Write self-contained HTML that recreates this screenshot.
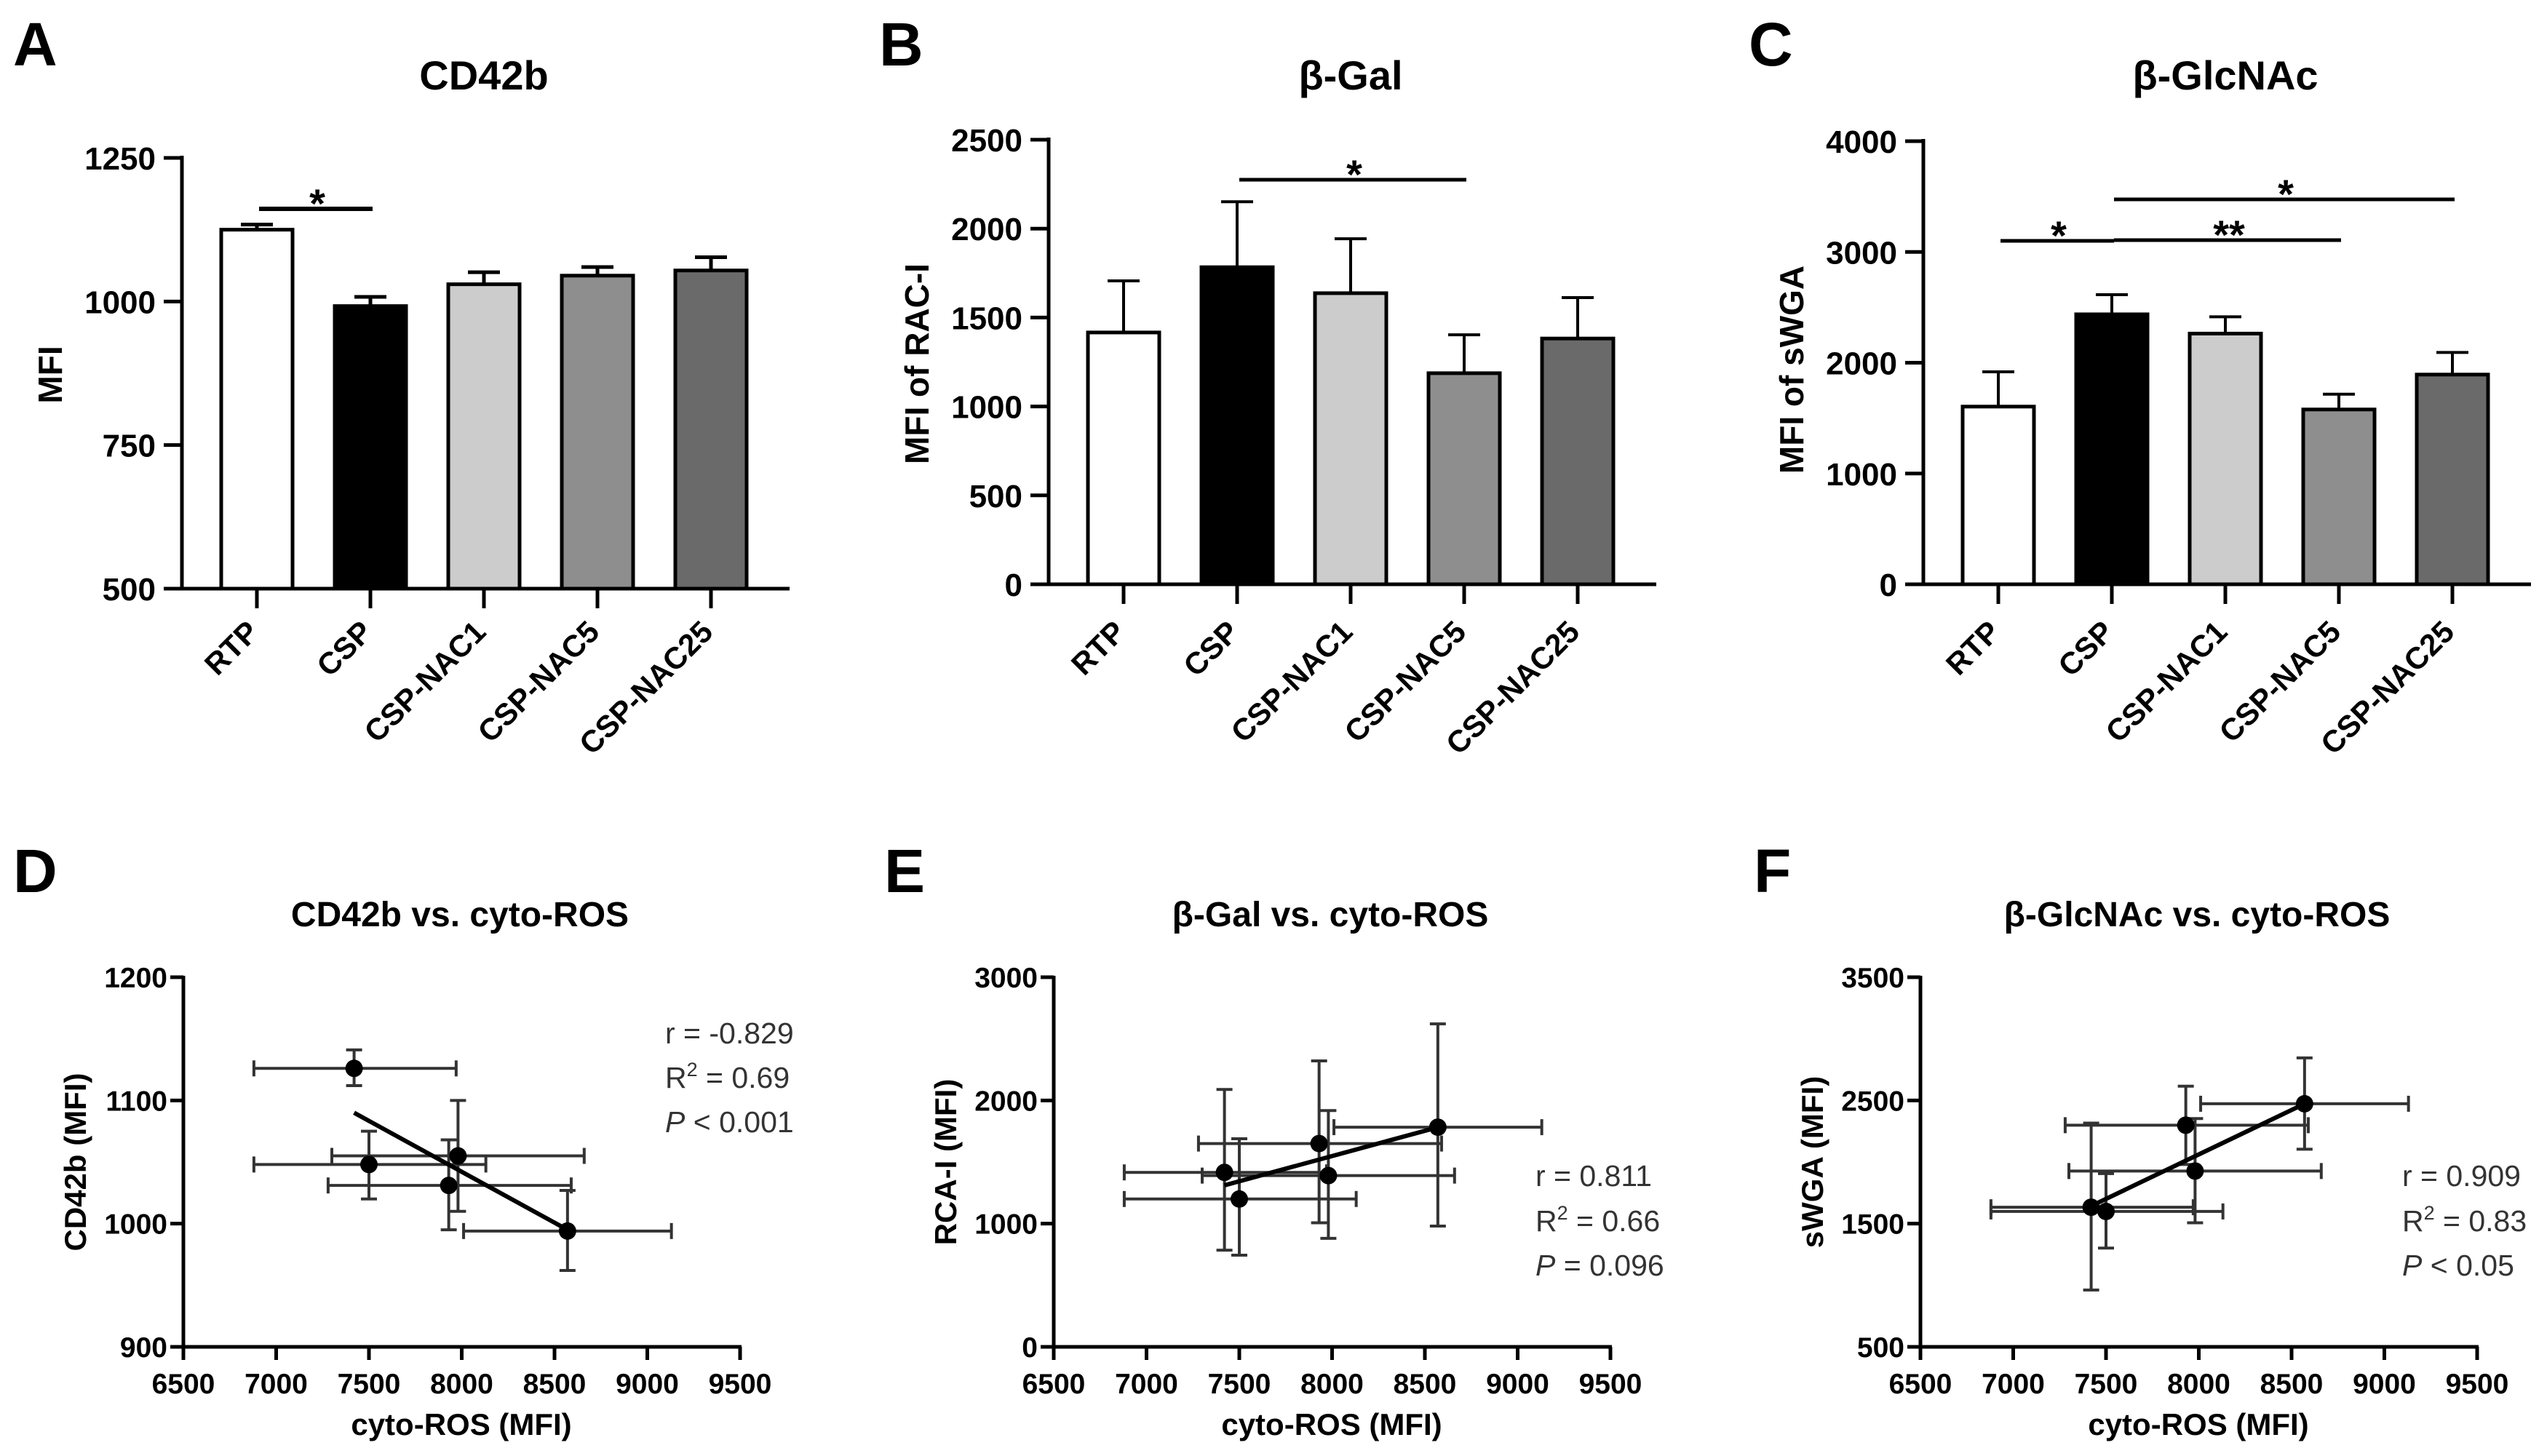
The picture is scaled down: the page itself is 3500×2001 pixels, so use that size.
<!DOCTYPE html>
<html><head><meta charset="utf-8">
<style>
html,body{margin:0;padding:0;background:#fff;}
svg{display:block;font-family:"Liberation Sans",Arial,sans-serif;}
</style></head>
<body>
<svg id="fig" width="3500" height="2001" viewBox="0 0 3500 2001" xmlns="http://www.w3.org/2000/svg">
<rect x="0" y="0" width="3500" height="2001" fill="#fff"/>
</svg>
<script>
// ---------- data ----------
const categories = ["RTP","CSP","CSP-NAC1","CSP-NAC5","CSP-NAC25"];
const barFills = ["#ffffff","#000000","#cccccc","#8e8e8e","#6a6a6a"];
const cd42bMean = [1125, 992, 1030, 1045, 1054];
const cd42bErr  = [1134, 1008, 1051, 1060, 1077];
const galMean = [1416, 1783, 1637, 1187, 1382];
const galErr  = [1706, 2151, 1943, 1403, 1612];
const glcMean = [1604, 2437, 2263, 1578, 1893];
const glcErr  = [1918, 2614, 2415, 1716, 2093];
const ticksA = [500, 750, 1000, 1250];
const ticksB = [0, 500, 1000, 1500, 2000, 2500];
const ticksC = [0, 1000, 2000, 3000, 4000];

const rosMean = [7420, 8570, 7930, 7500, 7980];
const rosLo   = [6880, 8010, 7280, 6880, 7300];
const rosHi   = [7970, 9130, 8590, 8130, 8660];
const xTicks  = [6500, 7000, 7500, 8000, 8500, 9000, 9500];
const dY  = [1126, 994, 1031, 1048, 1055];
const dLo = [1112, 962, 995, 1020, 1010];
const dHi = [1141, 1027, 1068, 1075, 1100];
const dFitX = [7420, 8570];
const dFitY = [1090, 995];
const dTicks = [900, 1000, 1100, 1200];
const eY  = [1416, 1783, 1650, 1200, 1390];
const eLo = [785, 980, 1007, 744, 881];
const eHi = [2089, 2621, 2321, 1689, 1918];
const eFitX = [7420, 8570];
const eFitY = [1311, 1782];
const eTicks = [0, 1000, 2000, 3000];
const fY  = [1633, 2473, 2299, 1599, 1927];
const fLo = [961, 2104, 1980, 1302, 1507];
const fHi = [2316, 2845, 2616, 1906, 2353];
const fFitX = [7420, 8570];
const fFitY = [1643, 2473];
const fTicks = [500, 1500, 2500, 3500];

// ---------- helpers ----------
const NS = "http://www.w3.org/2000/svg";
const svg = document.getElementById("fig");
function mk(tag, attrs, parent, text) {
  const e = document.createElementNS(NS, tag);
  for (const k in attrs) e.setAttribute(k, attrs[k]);
  if (text !== undefined) e.textContent = text;
  (parent || svg).appendChild(e);
  return e;
}
function line(x1,y1,x2,y2,w,c,p){return mk("line",{x1:x1,y1:y1,x2:x2,y2:y2,stroke:c||"#000","stroke-width":w||5},p);}

function panelLetter(t,x,y){
  const e = mk("text",{x:x,y:y,"font-size":84,"font-weight":"bold"},svg,t);
  
  
}

function barChart(o){
  const g = mk("g",{});
  
  
  const ax=o.ax, yT=o.yTop, yB=o.yBot, mn=o.min, mx=o.max;
  const Y = v => yB - (v-mn)/(mx-mn)*(yB-yT);
  const X = i => ax + 103 + i*156;
  const t = mk("text",{x:ax+415,y:123,"font-size":56,"font-weight":"bold","text-anchor":"middle"},g,o.title);
  
  
  categories.forEach((c,i)=>{
    const cx=X(i);
    const eb = line(cx,Y(o.mean[i]),cx,Y(o.err[i]),o.ew,"#000",g);
    
    
    line(cx-22,Y(o.err[i]),cx+22,Y(o.err[i]),o.ew,"#000",g);
    const r = mk("rect",{x:cx-49,y:Y(o.mean[i]),width:98,height:yB-Y(o.mean[i]),fill:barFills[i],stroke:"#000","stroke-width":5},g);
    
    
    line(cx,yB,cx,yB+27,5,"#000",g);
    const lb = mk("text",{transform:`translate(${cx+5},871) rotate(-45)`,"font-size":42,"font-weight":"bold","text-anchor":"end"},g,c);
    
    
  });
  const ya = line(ax,yT-3,ax,yB+2,5,"#000",g);
  
  
  const xa = line(ax-2,yB,ax+835,yB,5,"#000",g);
  
  
  o.ticks.forEach(v=>{
    line(ax-25,Y(v),ax,Y(v),5,"#000",g);
    const tl = mk("text",{x:ax-36,y:Y(v)+16,"font-size":44,"font-weight":"bold","text-anchor":"end"},g,String(v));
    
    
  });
  const yl = mk("text",{transform:`translate(${ax-165},${o.ylY}) rotate(-90)`,"font-size":46,"font-weight":"bold","text-anchor":"middle"},g,o.ylabel);
  
  
  o.sig.forEach(s=>{
    const sl = line(X(s[0])+3,s[2],X(s[1])+3,s[2],s[4],"#000",g);
    
    
    const st = mk("text",{x:(X(s[0])+X(s[1]))/2+5,y:s[2]+12,"font-size":56,"font-weight":"bold","text-anchor":"middle"},g,s[3]);
    
    
  });
}

function scatter(o){
  const g = mk("g",{});
  
  
  const ax=o.ax, yT=1343, yB=1851;
  const X = v => ax + (v-6500)/3000*765;
  const Y = v => yB - (v-o.min)/(o.max-o.min)*(yB-yT);
  const t = mk("text",{x:ax+380,y:1273,"font-size":48,"font-weight":"bold","text-anchor":"middle"},g,o.title);
  
  
  const ya = line(ax,yT-2,ax,yB+2,5,"#000",g);
  
  
  const xa = line(ax-2,yB,X(9500)+2,yB,5,"#000",g);
  
  
  o.ticks.forEach(v=>{
    line(ax-18,Y(v),ax,Y(v),5,"#000",g);
    const tl = mk("text",{x:ax-22,y:Y(v)+14,"font-size":39,"font-weight":"bold","text-anchor":"end"},g,String(v));
    
    
  });
  xTicks.forEach(v=>{
    line(X(v),yB,X(v),yB+18,5,"#000",g);
    const tl = mk("text",{x:X(v),y:1915,"font-size":39,"font-weight":"bold","text-anchor":"middle"},g,String(v));
    
    
  });
  const xl = mk("text",{x:ax+382,y:1972,"font-size":42,"font-weight":"bold","text-anchor":"middle"},g,"cyto-ROS (MFI)");
  
  
  const yl = mk("text",{transform:`translate(${ax-134},1597) rotate(-90)`,"font-size":42,"font-weight":"bold","text-anchor":"middle"},g,o.ylabel);
  
  
  categories.forEach((c,i)=>{
    const px=X(rosMean[i]), py=Y(o.y[i]);
    const hx = line(X(rosLo[i]),py,X(rosHi[i]),py,4,"#333",g);
    
    
    line(X(rosLo[i]),py-11,X(rosLo[i]),py+11,4,"#333",g);
    line(X(rosHi[i]),py-11,X(rosHi[i]),py+11,4,"#333",g);
    const vy = line(px,Y(o.lo[i]),px,Y(o.hi[i]),4,"#333",g);
    
    
    line(px-11,Y(o.lo[i]),px+11,Y(o.lo[i]),4,"#333",g);
    line(px-11,Y(o.hi[i]),px+11,Y(o.hi[i]),4,"#333",g);
  });
  const fit = line(X(o.fitX[0]),Y(o.fitY[0]),X(o.fitX[1]),Y(o.fitY[1]),6,"#000",g);
  
  
  categories.forEach((c,i)=>{
    const d = mk("circle",{cx:X(rosMean[i]),cy:Y(o.y[i]),r:12,fill:"#000"},g);
    
    
  });
  const sx = ax+662;
  const s1 = mk("text",{x:sx,y:o.sy[0],"font-size":41,fill:"#333"},g,o.stats[0]);
  
  
  const s2 = mk("text",{x:sx,y:o.sy[1],"font-size":41,fill:"#333"},g);
  
  
  mk("tspan",{},s2,"R");
  mk("tspan",{dy:-16,"font-size":27},s2,"2");
  mk("tspan",{dy:16},s2," = "+o.stats[1]);
  const s3 = mk("text",{x:sx,y:o.sy[2],"font-size":41,fill:"#333"},g);
  
  
  mk("tspan",{"font-style":"italic"},s3,"P");
  mk("tspan",{},s3," "+o.stats[2]);
}

// ---------- panels ----------
panelLetter("A",18,90);
panelLetter("B",1208,90);
panelLetter("C",2403,90);
panelLetter("D",18,1226);
panelLetter("E",1215,1226);
panelLetter("F",2410,1226);

barChart({name:"chart-a-cd42b",ax:250,yTop:217,yBot:809,min:500,max:1250,ticks:ticksA,mean:cd42bMean,err:cd42bErr,ew:5,
  title:"CD42b",ylabel:"MFI",ylY:515,sig:[[0,1,287,"*",6]]});
barChart({name:"chart-b-beta-gal",ax:1441,yTop:192,yBot:803,min:0,max:2500,ticks:ticksB,mean:galMean,err:galErr,ew:4,
  title:"β-Gal",ylabel:"MFI of RAC-I",ylY:500,sig:[[1,3,247,"*",5]]});
barChart({name:"chart-c-beta-glcnac",ax:2643,yTop:194,yBot:803,min:0,max:4000,ticks:ticksC,mean:glcMean,err:glcErr,ew:4,
  title:"β-GlcNAc",ylabel:"MFI of sWGA",ylY:508,sig:[[0,1,331,"*",5],[1,3,330,"**",5],[1,4,274,"*",5]]});

scatter({name:"chart-d-cd42b-vs-ros",ax:252,min:900,max:1200,ticks:dTicks,y:dY,lo:dLo,hi:dHi,fitX:dFitX,fitY:dFitY,
  title:"CD42b vs. cyto-ROS",ylabel:"CD42b (MFI)",stats:["r = -0.829","0.69","< 0.001"],sy:[1434,1495,1556]});
scatter({name:"chart-e-gal-vs-ros",ax:1448,min:0,max:3000,ticks:eTicks,y:eY,lo:eLo,hi:eHi,fitX:eFitX,fitY:eFitY,
  title:"β-Gal vs. cyto-ROS",ylabel:"RCA-I (MFI)",stats:["r = 0.811","0.66","= 0.096"],sy:[1630,1692,1753]});
scatter({name:"chart-f-glcnac-vs-ros",ax:2639,min:500,max:3500,ticks:fTicks,y:fY,lo:fLo,hi:fHi,fitX:fFitX,fitY:fFitY,
  title:"β-GlcNAc vs. cyto-ROS",ylabel:"sWGA (MFI)",stats:["r = 0.909","0.83","< 0.05"],sy:[1630,1692,1753]});
</script>
</body></html>
